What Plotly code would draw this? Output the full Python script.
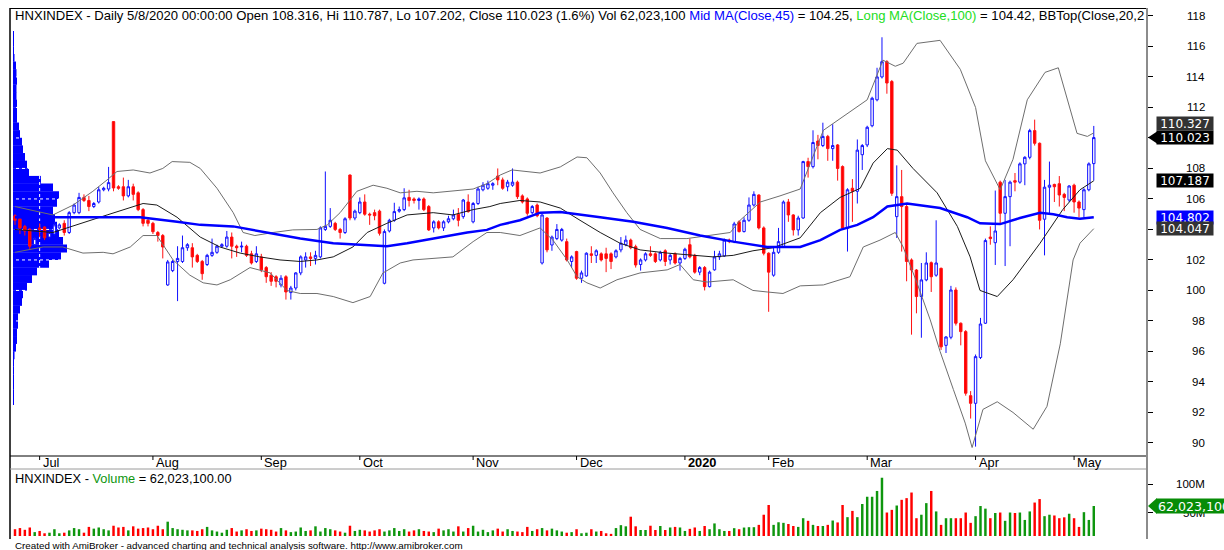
import plotly.graph_objects as go

# ---------------- data ----------------
opens = [
    104.9, 104.7, 104.2, 104.0, 103.0, 104.1, 104.16, 103.5, 103.7, 104.1,
    104.4, 103.8, 105.1, 105.1, 106.1, 105.9, 105.5, 105.8, 106.6, 106.65,
    111.07, 106.8, 106.8, 106.2, 106.8, 106.4, 105.3, 104.6, 104.4, 103.8,
    103.6, 100.36, 101.3, 101.9, 101.9, 102.8, 102.8, 102.3, 101.9, 101.7,
    102.3, 102.5, 102.9, 102.9, 103.5, 102.9, 102.85, 102.9, 102.4, 101.9,
    102.2, 101.5, 101.0, 100.9, 100.36, 100.9, 99.86, 100.16, 101.15, 102.0,
    102.2, 102.1, 102.2, 104.0, 104.2, 104.4, 104.0, 103.8, 107.57, 104.75,
    105.1, 105.8, 105.0, 105.1, 105.2, 100.47, 103.9, 104.6, 105.2, 105.3,
    106.1, 106.0, 105.9, 106.0, 105.5, 104.1, 104.5, 104.1, 104.5, 104.7,
    105.0, 104.84, 105.8, 104.5, 105.7, 106.6, 106.7, 106.9, 107.5, 107.25,
    106.8, 106.9, 107.1, 106.2, 106.0, 105.1, 105.6, 101.8, 104.75, 102.98,
    103.4, 103.3, 103.2, 101.9, 102.55, 100.8, 100.95, 102.4, 102.3, 102.4,
    102.4, 102.4, 102.2, 102.66, 103.0, 103.3, 102.87, 101.7, 102.0, 102.4,
    102.4, 102.0, 102.6, 102.0, 102.4, 101.8, 102.1, 103.0, 102.3, 101.2,
    101.5, 100.25, 101.35, 102.2, 102.26, 103.3, 103.2, 104.5, 103.86, 104.6,
    105.6, 106.26, 104.1, 102.44, 101.0, 102.5, 102.87, 105.8, 104.95, 103.97,
    104.75, 108.45, 108.12, 109.8, 109.5, 110.1, 109.3, 109.54, 108.12, 104.08,
    106.7, 106.5, 108.9, 109.54, 110.8, 112.5, 114.0, 115.0, 113.7, 104.84,
    106.15, 105.5, 102.0, 101.34, 99.6, 100.69, 101.82, 101.0, 101.45, 96.4,
    96.93, 100.03, 97.85, 97.3, 93.1, 92.6, 95.6, 97.85, 103.5, 103.13,
    107.1, 105.06, 106.15, 107.2, 107.1, 108.3, 108.73, 110.48, 109.65, 104.67,
    106.77, 106.95, 107.0, 106.3, 105.93, 106.9, 105.8, 105.3, 106.6, 108.316,
]
highs = [
    105.0, 104.8, 104.3, 104.1, 103.5, 104.4, 104.2, 103.9, 104.5, 104.4,
    104.6, 105.2, 105.7, 106.4, 106.3, 106.2, 105.8, 106.8, 106.8, 108.1,
    111.1, 106.9, 107.4, 107.25, 107.0, 106.5, 105.4, 104.8, 104.5, 103.9,
    103.7, 102.0, 102.0, 102.9, 103.6, 103.1, 103.1, 102.4, 102.0, 102.4,
    103.4, 103.0, 103.1, 103.9, 103.8, 103.0, 103.2, 103.0, 102.6, 102.9,
    102.4, 101.6, 101.2, 101.0, 101.0, 101.0, 100.3, 101.2, 102.3, 102.5,
    102.5, 102.6, 104.2, 107.8, 105.4, 104.5, 104.1, 104.8, 107.6, 105.3,
    106.1, 106.3, 105.1, 105.3, 105.3, 104.0, 104.7, 105.75, 105.5, 106.7,
    106.6, 106.1, 106.1, 106.1, 105.6, 104.6, 104.6, 104.6, 104.9, 105.3,
    105.4, 106.0, 106.3, 105.8, 106.8, 107.1, 107.2, 107.1, 108.0, 107.4,
    107.25, 108.0, 107.2, 106.3, 106.1, 105.6, 105.7, 105.0, 104.8, 103.6,
    104.35, 104.1, 103.4, 102.3, 102.6, 101.3, 102.5, 102.9, 102.7, 102.5,
    102.8, 102.5, 102.7, 103.5, 103.6, 103.4, 103.0, 102.1, 102.5, 102.9,
    102.5, 102.6, 102.7, 102.4, 102.5, 102.2, 102.8, 103.4, 102.4, 101.6,
    101.6, 101.3, 102.6, 102.6, 103.4, 103.4, 104.5, 104.6, 104.8, 106.1,
    106.5, 106.3, 104.2, 102.5, 102.8, 104.1, 105.9, 106.0, 105.0, 104.9,
    108.5, 108.7, 110.5, 110.2, 111.0, 110.2, 110.9, 109.6, 108.2, 106.7,
    107.3, 109.9, 109.6, 110.8, 112.7, 114.6, 116.6, 115.1, 113.8, 108.2,
    107.9, 105.6, 102.1, 101.4, 101.8, 102.5, 101.9, 104.6, 101.5, 97.0,
    100.3, 100.2, 97.9, 97.4, 93.4, 95.8, 98.2, 103.4, 104.2, 106.55,
    107.2, 107.25, 107.2, 107.7, 108.4, 108.8, 110.6, 111.2, 109.7, 107.25,
    108.45, 107.0, 107.5, 106.4, 106.9, 107.0, 105.9, 106.7, 108.4, 110.787,
]
lows = [
    104.3, 103.7, 103.6, 102.7, 102.9, 103.5, 103.3, 103.4, 103.6, 104.0,
    103.6, 103.7, 105.0, 105.0, 105.8, 105.2, 105.4, 105.7, 106.5, 106.5,
    106.5, 106.6, 105.9, 106.1, 105.9, 105.2, 104.2, 104.2, 103.7, 103.2,
    102.1, 100.3, 101.2, 99.3, 101.8, 102.6, 101.5, 101.8, 100.7, 101.6,
    102.2, 102.4, 102.8, 102.8, 102.1, 102.2, 102.5, 102.2, 101.7, 101.8,
    101.2, 100.5, 100.3, 100.2, 100.2, 99.4, 99.4, 100.0, 101.0, 101.5,
    101.6, 101.7, 102.1, 103.9, 104.1, 103.9, 103.4, 103.7, 104.6, 104.6,
    105.0, 104.9, 104.3, 104.6, 103.6, 100.4, 103.8, 104.5, 105.1, 105.2,
    105.5, 105.7, 105.3, 105.2, 103.9, 103.8, 104.0, 103.9, 104.4, 104.6,
    104.2, 104.7, 105.1, 104.4, 105.6, 106.5, 106.6, 106.6, 106.9, 106.6,
    106.5, 106.8, 106.0, 105.7, 104.9, 105.0, 104.8, 101.7, 102.5, 102.6,
    103.3, 103.2, 101.9, 101.5, 100.7, 100.5, 100.9, 101.8, 101.8, 101.9,
    101.2, 101.4, 102.1, 102.5, 102.9, 102.7, 101.5, 101.3, 101.9, 102.2,
    101.8, 101.9, 101.6, 101.7, 101.7, 101.3, 102.0, 102.1, 101.1, 101.0,
    100.0, 100.2, 101.3, 102.0, 102.2, 103.1, 103.1, 103.8, 103.8, 104.5,
    105.5, 104.0, 102.3, 98.6, 100.9, 102.4, 102.8, 104.5, 103.6, 103.6,
    104.7, 107.4, 108.0, 108.6, 109.4, 108.5, 108.5, 107.2, 104.0, 102.55,
    104.5, 105.7, 107.9, 109.4, 110.7, 112.4, 113.9, 112.9, 106.2, 103.44,
    102.55, 100.6, 97.1, 98.5, 96.9, 100.6, 99.9, 100.9, 96.1, 95.9,
    96.8, 97.7, 96.4, 93.1, 91.6, 89.76, 95.5, 97.8, 103.0, 101.67,
    104.3, 101.6, 102.9, 106.5, 107.0, 106.9, 108.6, 109.5, 104.0, 102.3,
    105.06, 105.8, 105.5, 105.2, 105.8, 105.1, 104.8, 104.8, 106.5, 107.202,
]
closes = [
    104.6, 104.1, 103.9, 102.9, 103.4, 104.0, 103.45, 103.8, 104.3, 104.3,
    103.8, 105.1, 105.6, 106.1, 105.9, 105.5, 105.7, 106.6, 106.7, 107.07,
    106.72, 106.7, 106.2, 106.8, 106.3, 105.3, 104.4, 104.4, 103.85, 103.6,
    102.85, 101.87, 101.9, 102.1, 102.8, 103.0, 102.2, 101.9, 101.1, 102.3,
    102.5, 102.9, 103.0, 103.5, 102.9, 102.8, 102.9, 102.3, 101.8, 102.4,
    101.35, 100.9, 100.6, 100.6, 100.8, 99.9, 100.16, 101.15, 102.2, 102.2,
    102.1, 102.3, 104.1, 104.2, 104.6, 104.0, 103.8, 104.7, 104.75, 105.2,
    105.8, 105.0, 104.95, 104.9, 103.75, 103.86, 104.6, 105.17, 105.3, 106.07,
    105.9, 105.9, 106.0, 105.3, 103.97, 104.5, 104.1, 104.5, 104.7, 104.95,
    104.6, 105.93, 105.17, 105.7, 106.65, 106.9, 107.0, 107.0, 107.25, 106.7,
    107.1, 107.1, 106.15, 105.8, 105.06, 105.5, 104.9, 104.95, 102.66, 103.5,
    104.0, 104.0, 102.0, 102.2, 100.8, 101.15, 102.44, 102.3, 102.6, 102.0,
    102.1, 101.9, 102.6, 103.1, 103.3, 102.8, 101.67, 102.0, 102.4, 102.3,
    101.9, 102.5, 101.9, 102.3, 101.8, 102.1, 102.7, 102.2, 101.2, 101.5,
    100.25, 101.2, 102.2, 102.4, 103.3, 103.2, 104.36, 103.86, 104.6, 105.6,
    106.3, 104.1, 102.44, 101.2, 102.5, 103.2, 105.8, 104.95, 103.97, 104.75,
    108.45, 108.12, 109.7, 109.5, 110.1, 109.3, 109.5, 108.0, 104.08, 106.6,
    106.5, 109.2, 109.5, 110.7, 112.6, 114.0, 115.0, 113.6, 106.37, 106.15,
    105.5, 101.9, 101.34, 99.6, 100.69, 101.8, 100.9, 101.8, 96.3, 96.95,
    100.03, 97.85, 97.3, 93.26, 92.6, 95.66, 97.8, 103.27, 103.4, 103.9,
    105.06, 106.15, 107.1, 107.1, 108.3, 108.73, 110.48, 109.65, 104.6, 106.77,
    106.9, 106.8, 106.26, 106.1, 106.85, 105.8, 105.4, 106.6, 108.3, 110.023,
]
# volume in millions of shares
volume_m = [
    22, 24, 21, 25, 17, 19, 15, 16, 22, 15,
    16, 20, 24, 22, 16, 26, 23, 25, 22, 20,
    28, 25, 26, 20, 27, 23, 24, 25, 22, 28,
    22, 35, 24, 22, 21, 20, 20, 19, 22, 26,
    20, 18, 16, 21, 24, 18, 20, 22, 19, 20,
    23, 22, 21, 18, 24, 20, 17, 18, 25, 19,
    20, 27, 18, 24, 22, 20, 18, 16, 28, 19,
    21, 20, 18, 20, 22, 18, 20, 24, 19, 22,
    18, 20, 22, 19, 18, 17, 23, 20, 22, 18,
    27, 18, 24, 28, 18, 21, 17, 20, 23, 18,
    22, 19, 18, 17, 26, 19, 22, 24, 20, 23,
    20, 18, 16, 17, 22, 15, 16, 22, 18, 19,
    15, 14, 24, 29, 27, 43.6, 27, 20.7, 20.7, 28,
    20.7, 27.6, 20.7, 25, 26, 25, 19, 22.6, 25, 19,
    27.6, 22, 32, 22, 19, 19, 23.8, 22, 24.9, 25.5,
    25.5, 29.5, 47, 63.8, 29.5, 34, 33, 31, 27.6, 26,
    41, 36.5, 29.5, 27.6, 27.6, 29.5, 37, 33.7, 63.8, 42.8,
    53.6, 42.8, 65.5, 78, 78, 88, 110.8, 50.8, 55.4, 62.9,
    72.7, 75.6, 85.3, 41, 47, 67, 88, 52.7, 29.5, 41,
    41, 41, 41, 50.8, 33, 44.5, 62, 57.5, 41, 50,
    50.8, 36.5, 50.8, 50, 50.8, 38, 52.7, 68, 74, 44.5,
    47, 45.7, 41, 42.5, 48.7, 41, 26, 51.4, 38, 62.0231,
]

# month start positions (bar index) and labels
month_idx = [5, 28, 50, 70, 93, 114, 136, 153, 173, 195, 215]
month_lab = ["Jul", "Aug", "Sep", "Oct", "Nov", "Dec", "<b>2020</b>", "Feb", "Mar", "Apr", "May"]

# Bollinger bands (20,2) and moving average (bar index, value)
bb_up_i = [0, 7.7, 11.8, 15.8, 18.7, 20.7, 24, 27.4, 30, 31.9, 35.5, 37.6, 41, 44.3, 46.3, 48.7, 52.4, 56.4,
           61.3, 63.4, 66, 69.4, 72.7, 75.5, 78.2, 81.6, 84.9, 88.9, 93, 95.8, 98.5, 100.9, 106.6, 110.7, 114.1,
           116.1, 118.8, 121.4, 124.2, 126.9, 131, 136.4, 140.5, 145.2, 147.2, 151.3, 155.3, 159.4, 164.1, 168.9,
           173, 176.2, 178.7, 180.3, 183.1, 187.8, 191.9, 195, 197, 200, 202.6, 205.5, 209.1, 211.8, 213.6, 215.6,
           217.7, 219]
bb_up_v = [105.5, 104.95, 105.6, 106.5, 107.25, 107.8, 107.9, 107.7, 108.0, 108.45, 108.4, 108.0, 106.7, 105.1,
           103.8, 103.6, 103.8, 103.97, 104.0, 104.3, 105.1, 106.5, 106.9, 106.7, 106.4, 106.5, 106.4, 106.5,
           106.65, 107.0, 107.57, 107.9, 107.7, 108.1, 108.75, 108.7, 107.7, 106.4, 105.1, 104.0, 103.4, 103.4,
           103.6, 103.8, 104.6, 105.8, 106.2, 106.65, 110.5, 111.6, 112.5, 115.1, 114.7, 114.9, 116.2, 116.4,
           114.5, 112.0, 108.5, 106.6, 108.6, 112.5, 114.3, 114.6, 112.5, 110.3, 110.1, 110.33]
bb_lo_i = [0, 5.7, 9.7, 13.8, 17.9, 19.9, 23.4, 26, 28.8, 32.1, 35.5, 38.2, 41, 43.7, 47.7, 51.8, 55.2, 57.9,
           61.3, 64.6, 68.6, 72.1, 74.7, 78.2, 80.8, 84.9, 88.9, 93, 95.8, 98.5, 102.5, 106.6, 109.2, 112.1, 114.1,
           116.1, 118.8, 122.2, 126.9, 132.4, 135, 137.7, 140.5, 145.8, 149.8, 152.7, 155.9, 159.4, 164.1, 169.5,
           172.2, 175.6, 178.7, 180.3, 183.1, 185.8, 187.8, 190.5, 192.9, 194.3, 196.5, 199.4, 202.6, 206.7, 209.5,
           212.2, 213.6, 214.8, 216.2, 219]
bb_lo_v = [102.5, 102.85, 102.85, 102.45, 102.5, 102.4, 102.85, 103.6, 103.6, 102.0, 101.0, 100.5, 100.36, 100.7,
           101.5, 101.15, 100.0, 99.8, 99.8, 99.6, 99.2, 99.6, 101.15, 101.8, 102.0, 102.1, 102.2, 103.2, 103.8,
           103.8, 103.6, 104.1, 103.3, 102.0, 100.9, 100.5, 100.16, 100.7, 101.15, 101.35, 101.7, 100.7, 100.55,
           100.7, 100.0, 99.9, 99.8, 100.3, 100.36, 100.9, 102.85, 103.3, 103.8, 102.85, 100.5, 98.07, 96.0, 93.5,
           91.3, 89.7, 92.2, 92.7, 92.0, 90.9, 92.4, 96.5, 99.5, 102.0, 103.1, 104.05]
bb_mid_i = [0, 7.7, 18.7, 26, 28.8, 32.9, 37.6, 41.6, 45.7, 49.7, 53.8, 57.9, 61.3, 64.6, 68.6, 71.5, 75.5, 79.6,
            84.9, 88.9, 93, 96.4, 98.5, 102.5, 106.6, 110.7, 114.7, 118.8, 122.8, 126.9, 132.4, 137.7, 141.7,
            145.8, 149.8, 153.9, 159.4, 163.5, 167.5, 171.6, 174.2, 177.1, 179.1, 182.3, 187.2, 191.3, 193.9,
            195.9, 199.4, 202.6, 208.1, 212.7, 216.2, 219]
bb_mid_v = [104.0, 103.8, 104.95, 105.7, 105.6, 104.8, 103.5, 102.85, 102.45, 102.2, 102.0, 101.9, 102.0, 102.2,
            102.85, 103.8, 104.4, 104.95, 105.1, 104.95, 105.3, 105.5, 105.7, 105.9, 105.8, 105.4, 104.6, 103.8,
            103.1, 102.66, 102.45, 102.3, 102.2, 102.3, 102.6, 102.8, 103.45, 105.1, 106.1, 106.7, 108.35, 109.3,
            109.2, 108.0, 106.4, 104.2, 102.2, 100.0, 99.6, 100.7, 103.1, 105.3, 106.6, 107.19]
ma_i = [0, 11.2, 25.4, 32.9, 37.6, 44.3, 51.2, 57.9, 64.6, 71.5, 75.5, 79.6, 84.9, 91.8, 95.8, 98.5, 102.5, 106.6,
        110.7, 114.7, 118.8, 125.5, 132.4, 139.1, 145.8, 152.7, 159.4, 163.5, 167.5, 171, 174.2, 177.1, 181.1,
        187.8, 193.3, 195.9, 200, 204, 208.1, 210.8, 213.6, 216.2, 219]
ma_v = [104.8, 104.8, 104.8, 104.5, 104.3, 104.2, 103.8, 103.4, 103.1, 103.0, 102.9, 103.1, 103.4, 103.8, 103.97,
        104.3, 104.6, 105.1, 105.15, 105.0, 104.8, 104.5, 104.1, 103.6, 103.2, 102.85, 102.85, 103.3, 103.97, 104.3,
        104.8, 105.5, 105.7, 105.4, 104.8, 104.4, 104.35, 104.75, 105.1, 105.0, 104.8, 104.7, 104.8]

# volume-at-price profile (price bin centre, relative volume)
prof_price = [92.75, 93.25, 93.75, 94.25, 94.75, 95.25, 95.75, 96.25, 96.75, 97.25, 97.75, 98.25, 98.75,
              99.25, 99.75, 100.25, 100.75, 101.25, 101.75, 102.25, 102.75, 103.25, 103.75, 104.25, 104.75,
              105.25, 105.75, 106.25, 106.75, 107.25, 107.75, 108.25, 108.75, 109.25, 109.75, 110.25, 110.75,
              111.25, 111.75, 112.25, 112.75, 113.25, 113.75, 114.25, 114.75, 115.25, 115.75, 116.25, 116.75]
prof_vol = [1, 1, 1, 1, 1, 1, 1.5, 3, 4, 4, 5, 5, 7, 9, 10, 14, 19, 24, 36, 48, 54, 50, 46, 44, 42, 40, 44, 46,
            40, 28, 16, 14, 12, 10, 9, 7, 6, 4, 4, 4, 3.5, 3.5, 4, 3.5, 3, 1.5, 1, 1, 1]

price_ticks = [90, 92, 94, 96, 98, 100, 102, 104, 106, 108, 110, 112, 114, 116, 118]
vol_ticks = [50, 100]
vol_tick_text = ["50M", "100M"]

tag_vals = [110.327, 110.023, 107.187, 104.802, 104.047]
tag_bg = ["#333333", "#000000", "#000000", "#0000FF", "#333333"]

# ---------------- geometry ----------------
W, H = 1224, 550
PL, PR, PT, PB = 10, 1146, 8, 536
MAIN_BOT, VOL_TOP = 455, 468
X_RANGE = [-1.015, 229.6]
Y_RANGE = [89.21, 118.52]
V_RANGE = [10.3, 127.6]
PROF_RANGE = [-3, PR - PL - 3]      # profile axis: 1 unit = 1 px, bars start 3 px right of frame


def px_x(p):
    return (p - PL) / (PR - PL)


def px_y(p):
    return (PB - p) / (PB - PT)


def idx_to_prof(i):
    px = PL + (i - X_RANGE[0]) / (X_RANGE[1] - X_RANGE[0]) * (PR - PL)
    return PROF_RANGE[0] + (px - PL)


idx = list(range(len(closes)))
FONT = "Liberation Sans, Arial, sans-serif"
TAGFONT = "DejaVu Sans, sans-serif"

fig = go.Figure()

# --- base subplot (x, y): volume profile + white dotted grid (drawn beneath the price plot)
fig.add_trace(go.Bar(x=prof_vol, y=prof_price, orientation="h", width=0.52,
                     marker=dict(color="#0000FF", line=dict(width=0)),
                     xaxis="x", yaxis="y", hoverinfo="skip", showlegend=False))
gx, gy = [], []
for t in price_ticks:
    gx += [PROF_RANGE[0], PROF_RANGE[1], None]
    gy += [t, t, None]
for m in month_idx:
    gx += [idx_to_prof(m), idx_to_prof(m), None]
    gy += [Y_RANGE[0], Y_RANGE[1], None]
fig.add_trace(go.Scatter(x=gx, y=gy, mode="lines", line=dict(color="white", width=1, dash="dot"),
                         hoverinfo="skip", showlegend=False, xaxis="x", yaxis="y"))

# --- overlay subplot (x3, y): candles, bands, MA
fig.add_trace(go.Candlestick(x=idx, open=opens, high=highs, low=lows, close=closes,
                             increasing=dict(line=dict(color="#1010FF", width=1), fillcolor="#FFFFFF"),
                             decreasing=dict(line=dict(color="#FF1010", width=1), fillcolor="#FF0000"),
                             whiskerwidth=0, showlegend=False, xaxis="x3", yaxis="y"))
for xi, yv, col, wd in [(bb_up_i, bb_up_v, "#6e6e6e", 1), (bb_lo_i, bb_lo_v, "#6e6e6e", 1),
                        (bb_mid_i, bb_mid_v, "#1a1a1a", 1), (ma_i, ma_v, "#0000FF", 2.5)]:
    fig.add_trace(go.Scatter(x=xi, y=yv, mode="lines", line=dict(color=col, width=wd),
                             showlegend=False, hoverinfo="skip", xaxis="x3", yaxis="y"))

# --- volume panel (x2, y2)
vcol = ["#0E960E" if c >= o else "#FF0000" for o, c in zip(opens, closes)]
fig.add_trace(go.Bar(x=idx, y=volume_m, width=0.5, marker=dict(color=vcol, line=dict(width=0)),
                     xaxis="x2", yaxis="y2", showlegend=False, hoverinfo="skip"))

# ---------------- layout ----------------
fig.update_layout(
    width=W, height=H, autosize=False,
    margin=dict(l=PL, r=W - PR, t=PT, b=H - PB, pad=0),
    paper_bgcolor="white", plot_bgcolor="white",
    showlegend=False, hovermode=False,
    font=dict(family=FONT, size=11, color="black"),
    xaxis=dict(domain=[0, 1], range=PROF_RANGE, anchor="y", visible=False, fixedrange=True),
    xaxis3=dict(range=X_RANGE, overlaying="x", anchor="y", visible=False,
                rangeslider=dict(visible=False)),
    xaxis2=dict(domain=[0, 1], range=X_RANGE, anchor="y2", visible=False),
    yaxis=dict(domain=[px_y(MAIN_BOT), 1], range=Y_RANGE, anchor="x", side="right",
               showgrid=False, zeroline=False, showline=False, ticks="outside", ticklen=6,
               tickcolor="black", tickwidth=1, tickvals=price_ticks, showticklabels=False),
    yaxis2=dict(domain=[0, px_y(VOL_TOP)], range=V_RANGE, anchor="x2", side="right",
                showgrid=False, zeroline=False, showline=False, ticks="outside", ticklen=6,
                tickcolor="black", tickwidth=1, tickvals=vol_ticks, showticklabels=False),
)

shapes = []
shapes.append(dict(type="line", xref="paper", yref="paper", x0=px_x(10), x1=px_x(10),
                   y0=px_y(8), y1=px_y(539), line=dict(color="black", width=1.5)))
shapes.append(dict(type="line", xref="paper", yref="paper", x0=px_x(10), x1=px_x(PR),
                   y0=px_y(8.5), y1=px_y(8.5), line=dict(color="black", width=1)))
shapes.append(dict(type="line", xref="paper", yref="paper", x0=px_x(PR + 1), x1=px_x(PR + 1),
                   y0=px_y(8), y1=px_y(539), line=dict(color="#8c8c8c", width=2)))
shapes.append(dict(type="line", xref="paper", yref="paper", x0=px_x(10), x1=px_x(PR),
                   y0=px_y(MAIN_BOT + 1), y1=px_y(MAIN_BOT + 1), line=dict(color="black", width=1)))
shapes.append(dict(type="line", xref="paper", yref="paper", x0=px_x(10), x1=px_x(PR),
                   y0=px_y(VOL_TOP + 1), y1=px_y(VOL_TOP + 1), line=dict(color="#9a9a9a", width=1)))
for m in month_idx:
    shapes.append(dict(type="line", xref="x3", yref="paper", x0=m, x1=m,
                       y0=px_y(MAIN_BOT + 1), y1=px_y(MAIN_BOT + 5), line=dict(color="black", width=1)))
h = 6 / 15.25
xt, xb = px_x(1148), px_x(1157)
shapes.append(dict(type="path", xref="paper", yref="y",
                   path=f"M {xt},{tag_vals[1]} L {xb},{tag_vals[1] + h} L {xb},{tag_vals[1] - h} Z",
                   fillcolor="#000000", line=dict(width=0)))
hv = 8 / 0.58
shapes.append(dict(type="path", xref="paper", yref="y2",
                   path=f"M {xt},{volume_m[-1]} L {xb},{volume_m[-1] + hv} L {xb},{volume_m[-1] - hv} Z",
                   fillcolor="#078C07", line=dict(width=0)))
fig.update_layout(shapes=shapes)

ann = []
title_html = ("HNXINDEX - Daily 5/8/2020 00:00:00 Open 108.316, Hi 110.787, Lo 107.202, Close 110.023 (1.6%) "
              "Vol 62,023,100 <span style='color:#0000FF'>Mid MA(Close,45)</span> = 104.25, "
              "<span style='color:#22DD22'>Long MA(Close,100)</span> = 104.42, BBTop(Close,20,2")
ann.append(dict(text=title_html, xref="paper", yref="paper", x=px_x(13), y=px_y(15),
                xanchor="left", yanchor="middle", showarrow=False, font=dict(size=13.1, family=FONT)))
for t in price_ticks:
    ann.append(dict(text=str(t), xref="paper", yref="y", x=px_x(1207), y=t, xanchor="right",
                    yanchor="middle", showarrow=False, font=dict(size=11.5, family=FONT)))
for m, lab in zip(month_idx, month_lab):
    ann.append(dict(text=lab, xref="x3", yref="paper", x=m, xshift=1, y=px_y(462.5), xanchor="left",
                    yanchor="middle", showarrow=False, font=dict(size=12.8, family=FONT)))
ann.append(dict(text="HNXINDEX - <span style='color:#0E960E'>Volume</span> = 62,023,100.00",
                xref="paper", yref="paper", x=px_x(13), y=px_y(478), xanchor="left", yanchor="middle",
                showarrow=False, font=dict(size=12.8, family=FONT)))
for v, tx in zip(vol_ticks, vol_tick_text):
    ann.append(dict(text=tx, xref="paper", yref="y2", x=px_x(1207), y=v, xanchor="right",
                    yanchor="middle", showarrow=False, font=dict(size=11.5, family=FONT)))
ann.append(dict(text="Created with AmiBroker - advanced charting and technical analysis software. "
                     "http://www.amibroker.com",
                xref="paper", yref="paper", x=px_x(13), y=px_y(545), xanchor="left", yanchor="middle",
                showarrow=False, font=dict(size=9.8, family=FONT)))
for k, (v, bg) in enumerate(zip(tag_vals, tag_bg)):
    ann.append(dict(text=f"{v:.3f}", xref="paper", yref="y", x=px_x(1156), y=v, xanchor="left",
                    yanchor="middle", yshift=9 if k == 0 else 0, showarrow=False, bgcolor=bg,
                    width=54, height=11, borderpad=1,
                    font=dict(size=12, family=TAGFONT, color="white")))
ann.append(dict(text="{:,.0f}".format(volume_m[-1] * 1e6), xref="paper", yref="y2", x=px_x(1156),
                y=volume_m[-1], xanchor="left", yanchor="middle", showarrow=False, bgcolor="#078C07",
                height=12, borderpad=1, font=dict(size=12.6, family=TAGFONT, color="white")))
fig.update_layout(annotations=ann)

fig.write_html("out.html", config={"displayModeBar": False, "staticPlot": True},
               post_script="document.body.style.margin='0px';document.body.style.overflow='hidden';")
